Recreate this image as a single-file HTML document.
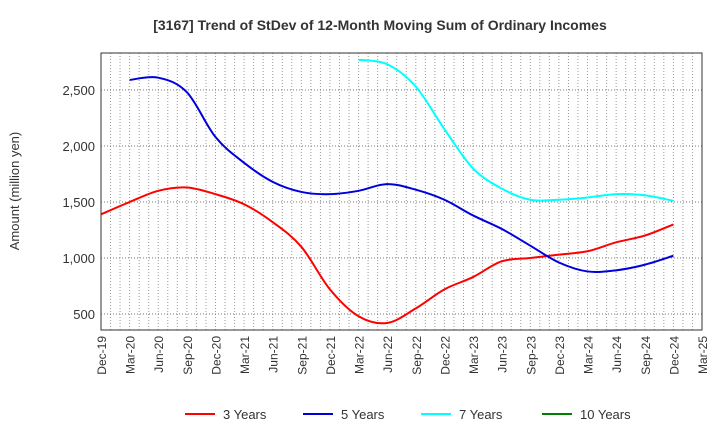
<!DOCTYPE html>
<html><head><meta charset="utf-8"><style>
body{margin:0;background:#fff;font-family:"Liberation Sans",sans-serif;}
svg text{font-family:"Liberation Sans",sans-serif;fill:#333;}
</style></head><body>
<svg id="c" width="720" height="440">
<text x="380" y="30" text-anchor="middle" font-size="14" font-weight="bold">[3167]  Trend of StDev of 12-Month Moving Sum of Ordinary Incomes</text>
<text transform="translate(19,191) rotate(-90)" text-anchor="middle" font-size="13">Amount (million yen)</text>
<g id="grid"></g><g id="series"></g><g id="axes"></g><g id="legend"></g>
</svg>
<script>
const xLabels=["Dec-19","Mar-20","Jun-20","Sep-20","Dec-20","Mar-21","Jun-21","Sep-21","Dec-21","Mar-22","Jun-22","Sep-22","Dec-22","Mar-23","Jun-23","Sep-23","Dec-23","Mar-24","Jun-24","Sep-24","Dec-24","Mar-25"];
const yTicks=[500,1000,1500,2000,2500];
const seriesNames=["3 Years","5 Years","7 Years","10 Years"];
const seriesColors=["#ff0000","#0000dd","#00ffff","#008000"];
const s3Start=0;
const s3=[1390,1500,1600,1630,1570,1480,1320,1100,720,480,420,550,720,830,970,1000,1030,1060,1140,1200,1300];
const s5Start=1;
const s5=[2590,2610,2480,2080,1850,1680,1590,1570,1600,1660,1610,1520,1380,1260,1110,960,880,890,940,1020];
const s7Start=9;
const s7=[2770,2730,2530,2150,1800,1620,1520,1520,1540,1570,1560,1510];
const L=101,R=702,T=53,B=330;
const X=q=>L+q*(R-L)/21;
const Y=v=>314-(v-500)*56/500;
const NS="http://www.w3.org/2000/svg";
function mk(tag,attrs,parent){const e=document.createElementNS(NS,tag);for(const k in attrs)e.setAttribute(k,attrs[k]);parent.appendChild(e);return e;}
const grid=document.getElementById('grid'),axes=document.getElementById('axes'),ser=document.getElementById('series'),leg=document.getElementById('legend');
for(let m=1;m<63;m++){const x=L+m*(R-L)/63;const g=mk('line',{x1:x,x2:x,y1:T,y2:B,stroke:'#999','stroke-dasharray':'1,2','stroke-width':1},grid);

}
yTicks.forEach(v=>{const g=mk('line',{x1:L,x2:R,y1:Y(v),y2:Y(v),stroke:'#777','stroke-dasharray':'1,2'},grid);


const t=mk('text',{x:L-6,y:Y(v)+5,'text-anchor':'end','font-size':13},axes);t.textContent=v.toLocaleString('en-US');

});
const fr=mk('rect',{x:L,y:T,width:R-L,height:B-T,fill:'none',stroke:'#333'},axes);


xLabels.forEach((lb,i)=>{const t=mk('text',{transform:`translate(${X(i)+5},${B+6}) rotate(-90)`,'text-anchor':'end','font-size':12},axes);t.textContent=lb;

});
function path(start,vals){const p=vals.map((v,i)=>[X(start+i),Y(v)]);let d=`M${p[0][0]},${p[0][1]}`;
for(let i=0;i<p.length-1;i++){const p0=p[i-1]||p[i],p1=p[i],p2=p[i+1],p3=p[i+2]||p2;
d+=` C${p1[0]+(p2[0]-p0[0])/6},${p1[1]+(p2[1]-p0[1])/6} ${p2[0]-(p3[0]-p1[0])/6},${p2[1]-(p3[1]-p1[1])/6} ${p2[0]},${p2[1]}`;}return d;}
[[s3Start,s3,0,'series-3-years'],[s5Start,s5,1,'series-5-years'],[s7Start,s7,2,'series-7-years']].forEach(([st,v,c,n])=>{
const e=mk('path',{d:path(st,v),fill:'none',stroke:seriesColors[c],'stroke-width':2},ser);

});
const lx=[185,303,421,542];
seriesNames.forEach((n,i)=>{const l=mk('line',{x1:lx[i],x2:lx[i]+30,y1:414,y2:414,stroke:seriesColors[i],'stroke-width':2},leg);


const t=mk('text',{x:lx[i]+38,y:419,'font-size':13},leg);t.textContent=n;

});
</script>
</body></html>
